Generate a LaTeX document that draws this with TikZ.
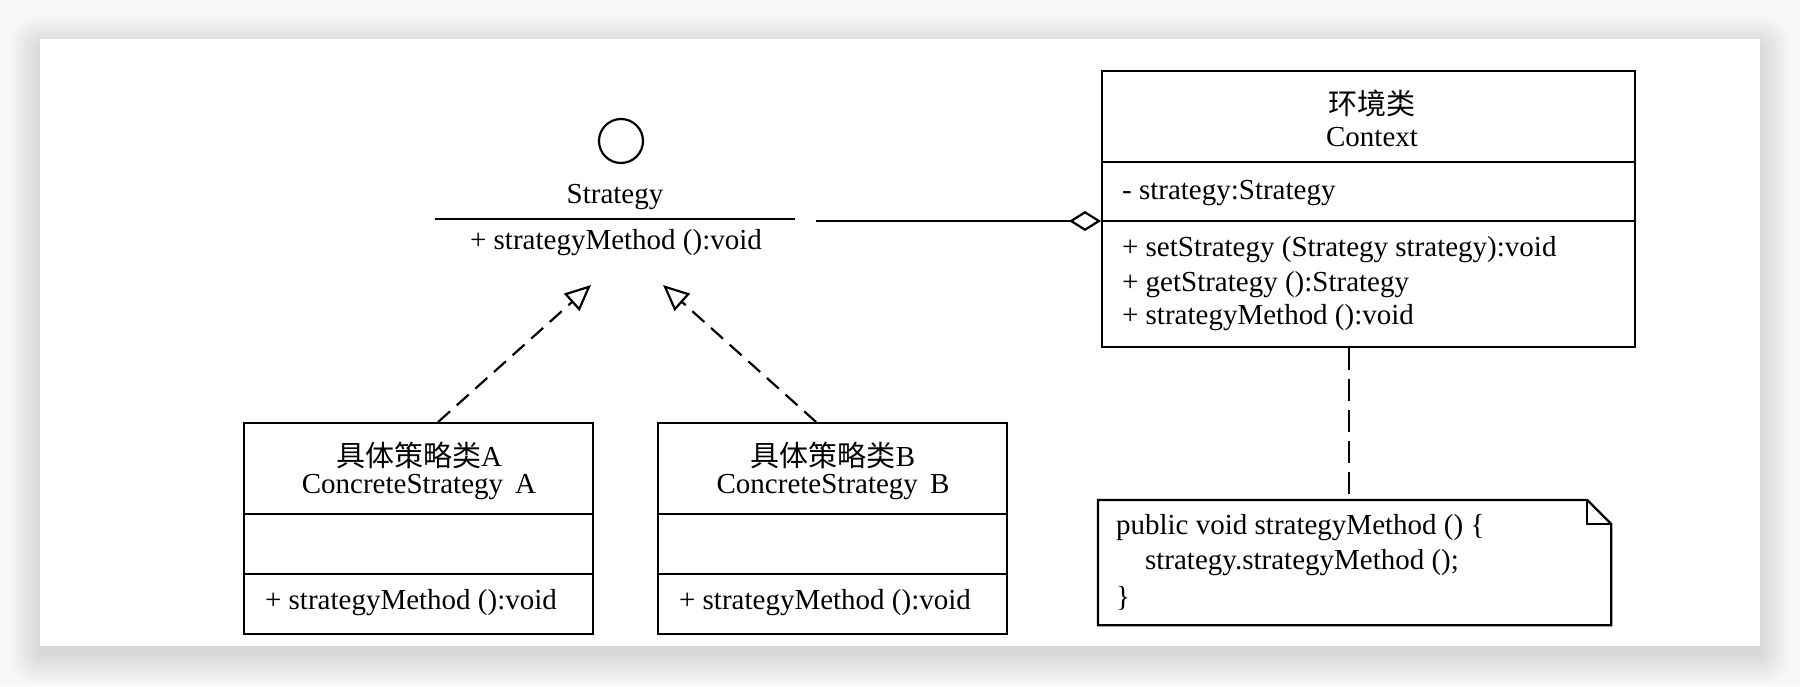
\documentclass[tikz,border=0pt]{standalone}
\usepackage{fontspec}
\setmainfont{Liberation Serif}
\newfontfamily\cjk{Noto Sans CJK SC}
\usetikzlibrary{arrows.meta}
\begin{document}
\begin{tikzpicture}[x=1pt,y=-1pt,line width=2.2pt,line join=miter,
  txt/.style={inner sep=0pt,font=\fontsize{29}{34}\selectfont},
  umlbox/.style={draw,anchor=north west,inner sep=0pt,fill=white},
  real/.style={dash pattern=on 16pt off 9pt,-{Triangle[open,length=26pt,width=23pt,line width=2.2pt]}},
  assoc/.style={{Diamond[open,length=32pt,width=20pt,line width=2.2pt]}-},
  notelink/.style={dash pattern=on 22pt off 9pt}]
\useasboundingbox (0,0) rectangle (1800,686);
% background and card
\fill[white!97!black] (0,0) rectangle (1800,686);
\foreach \i in {0,...,15}{
  \fill[black,opacity=0.006,rounded corners=2*\i] (40-2*\i,47-2*\i) rectangle (1760+2*\i,654+2*\i);
}
\fill[white] (40,39) rectangle (1760,646);

% Strategy interface
\node[draw,circle,minimum size=44pt,inner sep=0pt] (icon) at (621,141) {};
\node[txt] (sname) at (615,197) {Strategy};
\draw (435,219) -- (795,219);
\node[txt] (smeth) at (616,243) {+ strategyMethod ():void};
\coordinate (tipA) at (591,285);
\coordinate (tipB) at (663,285);
\coordinate (assocStart) at (816,221);

% Context
\node[umlbox,minimum width=533pt,minimum height=276pt] (ctx) at (1101,70) {};
\draw ([yshift=-92pt]ctx.north west) -- ([yshift=-92pt]ctx.north east);
\draw ([yshift=-151pt]ctx.north west) -- ([yshift=-151pt]ctx.north east);
\node[txt] (ctxcn) at (1372,103) {\cjk 环境类};
\node[txt] (ctxen) at (1372,137) {Context};
\node[txt,anchor=west] (ctxattr) at (1121,193) {- strategy:Strategy};
\node[txt,anchor=west] (ctxm1) at (1121,250) {+ setStrategy (Strategy strategy):void};
\node[txt,anchor=west] (ctxm2) at (1121,285) {+ getStrategy ():Strategy};
\node[txt,anchor=west] (ctxm3) at (1121,318) {+ strategyMethod ():void};

% ConcreteStrategy A
\node[umlbox,minimum width=349pt,minimum height=211pt] (csa) at (243,422) {};
\draw ([yshift=-92pt]csa.north west) -- ([yshift=-92pt]csa.north east);
\draw ([yshift=-152pt]csa.north west) -- ([yshift=-152pt]csa.north east);
\node[txt] (csacn) at (419,455) {{\cjk 具体策略类}A};
\node[txt] (csaen) at (419,487) {ConcreteStrategy\, A};
\node[txt,anchor=west] (csam) at (264,603) {+ strategyMethod ():void};

% ConcreteStrategy B
\node[umlbox,minimum width=349pt,minimum height=211pt] (csb) at (657,422) {};
\draw ([yshift=-92pt]csb.north west) -- ([yshift=-92pt]csb.north east);
\draw ([yshift=-152pt]csb.north west) -- ([yshift=-152pt]csb.north east);
\node[txt] (csbcn) at (833,455) {{\cjk 具体策略类}B};
\node[txt] (csben) at (833,487) {ConcreteStrategy\, B};
\node[txt,anchor=west] (csbm) at (678,603) {+ strategyMethod ():void};

% Note
\node[minimum width=511pt,minimum height=123pt,anchor=north west,inner sep=0pt] (note) at (1098,500) {};
\draw (note.north west) -- ([xshift=-24pt]note.north east) -- ([yshift=-24pt]note.north east)
  -- (note.south east) -- (note.south west) -- cycle;
\draw ([xshift=-24pt]note.north east) -- ([xshift=-24pt,yshift=-24pt]note.north east) -- ([yshift=-24pt]note.north east);
\node[txt,anchor=west] (n1) at (1115,528) {public void strategyMethod () \{};
\node[txt,anchor=west] (n2) at (1144,563) {strategy.strategyMethod ();};
\node[txt,anchor=west] (n3) at (1115,598) {\}};

% Connectors
\draw[real] ([xshift=19.5pt]csa.north) -- (tipA);
\draw[real] ([xshift=-16.5pt]csb.north) -- (tipB);
\draw[assoc] ([yshift=-151pt]ctx.north west) -- (assocStart);
\coordinate (nx) at (1349,0);
\draw[notelink] (ctx.south -| nx) -- (note.north -| nx);
\end{tikzpicture}
\end{document}
